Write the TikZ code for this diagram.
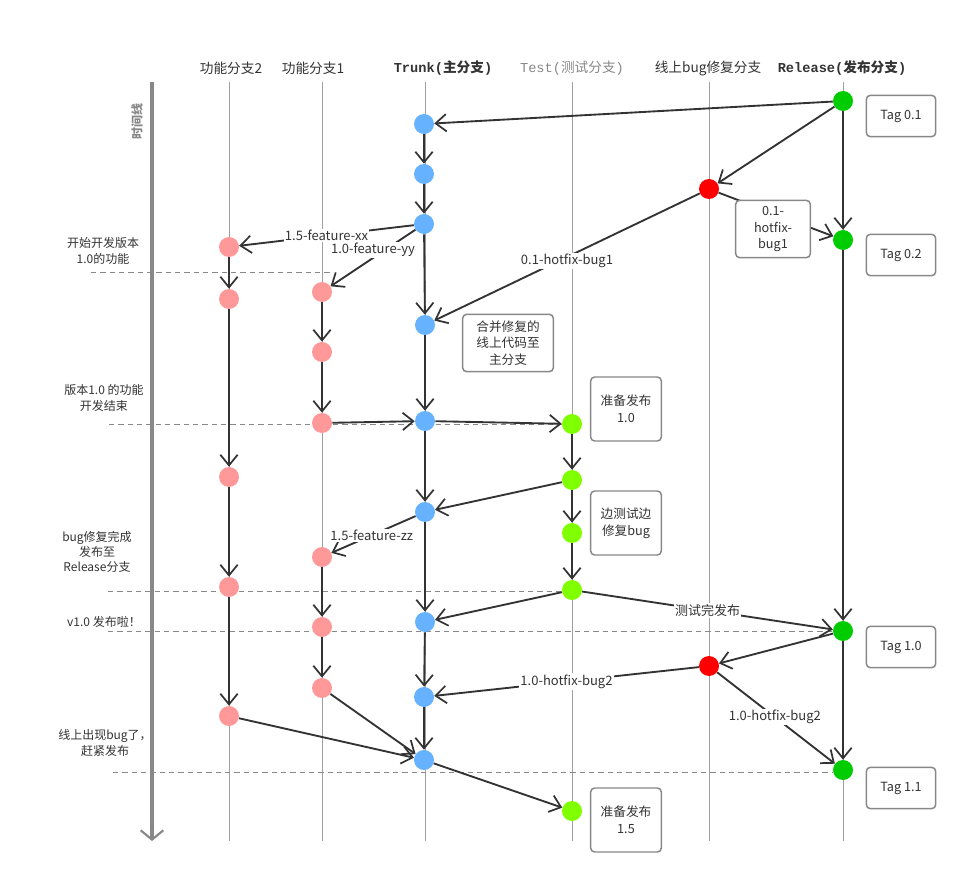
\documentclass[tikz,border=0pt]{standalone}
\usepackage{fontspec}
\setmainfont{Noto Sans CJK SC}
\newfontfamily\monof{Liberation Mono}
\usetikzlibrary{arrows.meta}
\definecolor{pinkc}{HTML}{FF9999}
\definecolor{bluec}{HTML}{66B2FF}
\definecolor{testc}{HTML}{80FF00}
\definecolor{relc}{HTML}{00CC00}
\definecolor{redc}{HTML}{FF0000}
\definecolor{edgec}{HTML}{333333}
\definecolor{gridc}{HTML}{A0A0A0}
\definecolor{dashc}{HTML}{888888}
\definecolor{boxc}{HTML}{888888}
\definecolor{textc}{HTML}{333333}
\tikzset{
  dot/.style={circle, minimum size=15pt, inner sep=0pt},
  fb2/.style={dot, fill=pinkc},
  tr/.style={dot, fill=bluec},
  ts/.style={dot, fill=testc},
  rl/.style={dot, fill=relc},
  hf/.style={dot, fill=redc},
  conn/.style={draw=edgec, line width=1.4pt, -{Straight Barb[length=8pt,width=13pt,line width=1.3pt]}},
  lbl/.style={fill=white, text=textc, font=\fontsize{9.75}{11}\selectfont, inner sep=1pt},
  tagbox/.style={draw=boxc, line width=1.1pt, rounded corners=3pt, fill=white, text=textc, align=center, font=\fontsize{9.5}{12.5}\selectfont, inner sep=2pt},
  side/.style={text=textc, align=center, font=\fontsize{9}{11.5}\selectfont},
  head/.style={text=textc, font=\fontsize{10.25}{12}\selectfont},
  grid/.style={draw=gridc, line width=0.75pt},
  guide/.style={draw=dashc, line width=0.75pt, dash pattern=on 4pt off 3pt},
}
\begin{document}
\begin{tikzpicture}[x=0.75pt,y=-0.75pt]
\useasboundingbox (0,0) rectangle (968,884);
% column guides
\foreach \cx in {229,322,425,572,709,843} \draw[grid] (\cx,82) -- (\cx,841);
% headers
\node[head] (h1) at (231,68) {功能分支2};
\node[head] (h2) at (313,68) {功能分支1};
\node[head] (h3) at (443,68) {\monof\bfseries Trunk(\normalfont\textbf{主分支}\monof\bfseries)};
\node[head, text=dashc] (h4) at (572,68) {\monof Test(\normalfont 测试分支\monof)};
\node[head] (h5) at (708,68) {线上bug修复分支};
\node[head] (h6) at (842,68) {\monof\bfseries Release(\normalfont\textbf{发布分支}\monof\bfseries)};
% timeline
\coordinate (tl1) at (152,82);
\coordinate (tl2) at (152,841);
\draw[draw=dashc, line width=3pt, -{Straight Barb[length=7pt,width=17pt,line width=1.6pt]}] (tl1) -- (tl2);
\node[text=dashc, font=\fontsize{9}{11}\selectfont\bfseries, rotate=90] (tlab) at (137,122) {时间线};
% dashed guides
\draw[guide] (91,273) -- (331,273);
\draw[guide] (109,424) -- (563,424);
\draw[guide] (108,591) -- (563,591);
\draw[guide] (108,631) -- (833,631);
\draw[guide] (113,772) -- (833,772);
% side labels
\node[side] (s1) at (103,251) {开始开发版本\\1.0的功能};
\node[side] (s2) at (104,398) {版本1.0 的功能\\开发结束};
\node[side] (s3) at (97,552) {bug修复完成\\发布至\\Release分支};
\node[side] (s4) at (104,622) {v1.0 发布啦！};
\node[side] (s5) at (105,743) {线上出现bug了，\\赶紧发布};
% nodes
\node[rl] (R1) at (843,101) {};
\node[rl] (R2) at (843,240) {};
\node[rl] (R3) at (843,631) {};
\node[rl] (R4) at (843,770) {};
\node[hf] (H1) at (709,189) {};
\node[hf] (H2) at (709,666) {};
\node[tr] (T1) at (424,124) {};
\node[tr] (T2) at (424,174) {};
\node[tr] (T3) at (424,224) {};
\node[tr] (T4) at (425,325) {};
\node[tr] (T5) at (425,421) {};
\node[tr] (T6) at (425,512) {};
\node[tr] (T7) at (425,622) {};
\node[tr] (T8) at (424,697) {};
\node[tr] (T9) at (424,760) {};
\node[ts] (S1) at (572,424) {};
\node[ts] (S2) at (572,480) {};
\node[ts] (S3) at (572,533) {};
\node[ts] (S4) at (572,590) {};
\node[ts] (S5) at (572,811) {};
\node[fb2] (A1) at (229,247) {};
\node[fb2] (A2) at (229,299) {};
\node[fb2] (A3) at (229,477) {};
\node[fb2] (A4) at (229,587) {};
\node[fb2] (A5) at (229,716) {};
\node[fb2] (B1) at (322,292) {};
\node[fb2] (B2) at (322,352) {};
\node[fb2] (B3) at (322,423) {};
\node[fb2] (B4) at (322,557) {};
\node[fb2] (B5) at (322,627) {};
\node[fb2] (B6) at (322,688) {};
% release
\draw[conn] (R1) -- (T1);
\draw[conn] (R1) -- (H1);
\draw[conn] (R1) -- (R2);
\draw[conn] (R2) -- (R3);
\draw[conn] (R3) -- (R4);
\draw[conn] (H1) -- (R2);
\draw[conn] (H1) -- node[lbl, pos=0.5, yshift=-3pt] {0.1-hotfix-bug1} (T4);
% trunk
\draw[conn] (T1) -- (T2);
\draw[conn] (T2) -- (T3);
\draw[conn] (T3) -- (T4);
\draw[conn] (T4) -- (T5);
\draw[conn] (T5) -- (T6);
\draw[conn] (T6) -- (T7);
\draw[conn] (T7) -- (T8);
\draw[conn] (T8) -- (T9);
\draw[conn] (T3) -- node[lbl, pos=0.5] {1.5-feature-xx} (A1);
\draw[conn] (T3) -- node[lbl, pos=0.5, yshift=6pt] {1.0-feature-yy} (B1);
% features
\draw[conn] (A1) -- (A2);
\draw[conn] (A2) -- (A3);
\draw[conn] (A3) -- (A4);
\draw[conn] (A4) -- (A5);
\draw[conn] (B1) -- (B2);
\draw[conn] (B2) -- (B3);
\draw[conn] (B3) -- (T5);
\draw[conn] (B4) -- (B5);
\draw[conn] (B5) -- (B6);
\draw[conn] (T6) -- node[lbl, pos=0.52] {1.5-feature-zz} (B4);
% test
\draw[conn] (T5) -- (S1);
\draw[conn] (S1) -- (S2);
\draw[conn] (S2) -- (S3);
\draw[conn] (S3) -- (S4);
\draw[conn] (S2) -- (T6);
\draw[conn] (S4) -- (T7);
\draw[conn] (S4) -- node[lbl, pos=0.5] {测试完发布} (R3);
% hotfix 2
\draw[conn] (R3) -- (H2);
\draw[conn] (H2) -- node[lbl, pos=0.5] {1.0-hotfix-bug2} (T8);
\draw[conn] (H2) -- node[lbl, pos=0.49] {1.0-hotfix-bug2} (R4);
\draw[conn] (A5) -- (T9);
\draw[conn] (B6) -- (T9);
\draw[conn] (T9) -- (S5);
% boxes
\node[tagbox, minimum width=56pt, minimum height=43pt] (hb1) at (773,229) {0.1-\\hotfix-\\bug1};
\node[tagbox, minimum width=52pt, minimum height=31pt] (tag1) at (901,116) {Tag 0.1};
\node[tagbox, minimum width=52pt, minimum height=31pt] (tag2) at (901,255) {Tag 0.2};
\node[tagbox, minimum width=52pt, minimum height=31pt] (tag3) at (901,647) {Tag 1.0};
\node[tagbox, minimum width=52pt, minimum height=31pt] (tag4) at (901,788) {Tag 1.1};
\node[tagbox, minimum width=68pt, minimum height=43pt] (mb) at (508,343) {合并修复的\\线上代码至\\主分支};
\node[tagbox, minimum width=53pt, minimum height=48pt] (pb1) at (626,409) {准备发布\\1.0};
\node[tagbox, minimum width=53pt, minimum height=48pt] (pb2) at (626,523) {边测试边\\修复bug};
\node[tagbox, minimum width=53pt, minimum height=48pt] (pb3) at (626,820) {准备发布\\1.5};
\end{tikzpicture}
\end{document}
